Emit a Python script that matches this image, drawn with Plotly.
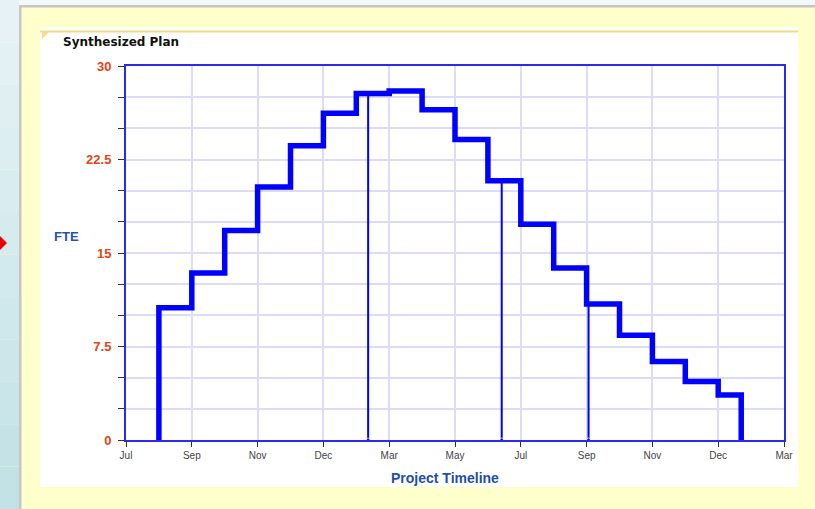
import plotly.graph_objects as go

# ---------------- data ----------------
tick_labels = ["Jul", "Sep", "Nov", "Dec", "Mar", "May", "Jul", "Sep", "Nov", "Dec", "Mar"]
tick_positions = list(range(len(tick_labels)))

# start of each half-period step (axis units) and FTE level for that step
step_starts = [0.5, 1.0, 1.5, 2.0, 2.5, 3.0, 3.5, 4.0, 4.5, 5.0, 5.5, 6.0, 6.5, 7.0, 7.5, 8.0, 8.5, 9.0]
fte_levels = [10.6, 13.4, 16.8, 20.3, 23.6, 26.2, 27.8, 28.0, 26.5, 24.1, 20.8, 17.3, 13.8, 10.9, 8.4, 6.3, 4.7, 3.6]
plan_end = 9.35

milestones = [3.68, 5.71, 7.03]

y_ticks = [0, 2.5, 5, 7.5, 10, 12.5, 15, 17.5, 20, 22.5, 25, 27.5, 30]
y_labels = ["0", "", "", "7.5", "", "", "15", "", "", "22.5", "", "", "30"]

# ---------------- geometry helpers (layout only) ----------------
W, H = 815, 509
L, R, T, B = 126, 784, 66, 440


def px(x):
    return (x - L) / (R - L)


def py(y):
    return (B - y) / (B - T)


def level_at(x):
    lvl = 0
    for s, v in zip(step_starts, fte_levels):
        if x >= s - 1e-9:
            lvl = v
    return lvl


step_x = [step_starts[0]] + step_starts + [plan_end]
step_y = [0] + fte_levels + [0]

fig = go.Figure()

fig.add_trace(go.Scatter(
    x=step_x, y=step_y, mode="lines", line=dict(color="#0000ff", width=5.5, shape="hv"),
    hoverinfo="skip", showlegend=False))

for m in milestones:
    fig.add_trace(go.Scatter(
        x=[m, m], y=[0, level_at(m)], mode="lines+markers",
        line=dict(color="#0000ff", width=2),
        marker=dict(size=[4, 0], color="#0000ff"),
        hoverinfo="skip", showlegend=False))

shapes = []
# left light-blue strip (gradient bands)
nb = 12
c0 = (0xe6, 0xf2, 0xf5)
c1 = (0xc2, 0xe2, 0xe6)
for i in range(nb):
    t = i / (nb - 1)
    col = "rgb(%d,%d,%d)" % tuple(round(a + (b - a) * t) for a, b in zip(c0, c1))
    y0 = i * H / nb
    y1 = (i + 1) * H / nb
    shapes.append(dict(type="rect", xref="paper", yref="paper", layer="below",
                       x0=px(0), x1=px(19), y0=py(y1), y1=py(y0),
                       fillcolor=col, line=dict(width=0)))
# top light strip
shapes.append(dict(type="rect", xref="paper", yref="paper", layer="below",
                   x0=px(19), x1=px(W), y0=py(5), y1=py(0),
                   fillcolor="#f3f8fa", line=dict(width=0)))
# gray borders
shapes.append(dict(type="rect", xref="paper", yref="paper", layer="below",
                   x0=px(19), x1=px(W), y0=py(7.5), y1=py(5),
                   fillcolor="#c6c6c6", line=dict(width=0)))
shapes.append(dict(type="rect", xref="paper", yref="paper", layer="below",
                   x0=px(19), x1=px(21.5), y0=py(H), y1=py(5),
                   fillcolor="#c6c6c6", line=dict(width=0)))
# white panel
shapes.append(dict(type="rect", xref="paper", yref="paper", layer="below",
                   x0=px(40), x1=px(798), y0=py(487), y1=py(27.5),
                   fillcolor="#ffffff", line=dict(width=0)))
# yellow line at top of panel
shapes.append(dict(type="line", xref="paper", yref="paper", layer="below",
                   x0=px(40), x1=px(798), y0=py(31.5), y1=py(31.5),
                   line=dict(color="#f4d98c", width=2)))
# corner triangle
shapes.append(dict(type="path", xref="paper", yref="paper", layer="below",
                   path="M %f %f L %f %f L %f %f Z" % (px(42), py(31), px(50), py(31), px(42), py(39)),
                   fillcolor="#f6dc88", line=dict(width=0)))
# red arrow at left edge
shapes.append(dict(type="path", xref="paper", yref="paper", layer="above",
                   path="M %f %f L %f %f L %f %f L %f %f Z" % (
                       px(-6), py(243), px(0), py(236), px(7), py(243), px(0), py(250)),
                   fillcolor="#ee0000", line=dict(width=0)))

annotations = [
    dict(text="<b>Synthesized Plan</b>", xref="paper", yref="paper", x=px(61), y=py(42),
         xanchor="left", yanchor="middle", showarrow=False,
         font=dict(family="DejaVu Sans", size=12, color="#111111")),
    dict(text="<b>FTE</b>", xref="paper", yref="paper", x=px(66.5), y=py(236),
         xanchor="center", yanchor="middle", showarrow=False,
         font=dict(family="Liberation Sans", size=13, color="#2454a8")),
    dict(text="<b>Project Timeline</b>", xref="paper", yref="paper", x=px(445), y=py(478),
         xanchor="center", yanchor="middle", showarrow=False,
         font=dict(family="Liberation Sans", size=14, color="#1f4fa6")),
]

fig.update_layout(
    width=W, height=H,
    margin=dict(l=L, r=W - R, t=T, b=H - B, pad=0),
    paper_bgcolor="#ffffcc", plot_bgcolor="#ffffff",
    shapes=shapes, annotations=annotations, showlegend=False,
    xaxis=dict(range=[0, 10], tickvals=tick_positions, ticktext=tick_labels,
               showgrid=True, gridcolor="#dcdcf6", gridwidth=1.5, zeroline=False,
               showline=True, linecolor="#2b2bee", linewidth=2, mirror=True,
               ticks="outside", ticklen=5, tickcolor="#333333", tickwidth=1,
               tickfont=dict(family="Liberation Sans", size=10, color="#444444"),
               fixedrange=True),
    yaxis=dict(range=[0, 30], tickvals=y_ticks,
               ticktext=["<b>%s</b>" % t if t else "" for t in y_labels],
               showgrid=True, gridcolor="#dcdcf6", gridwidth=1.5, zeroline=False,
               showline=True, linecolor="#2b2bee", linewidth=2, mirror=True,
               ticks="outside", ticklen=6, tickcolor="#333333", tickwidth=1,
               ticklabelstandoff=4,
               tickfont=dict(family="Liberation Sans", size=13, color="#dd4616"),
               fixedrange=True),
)

fig.write_html("out.html", config=dict(displayModeBar=False),
               post_script="document.body.style.margin='0';document.body.style.overflow='hidden';")
